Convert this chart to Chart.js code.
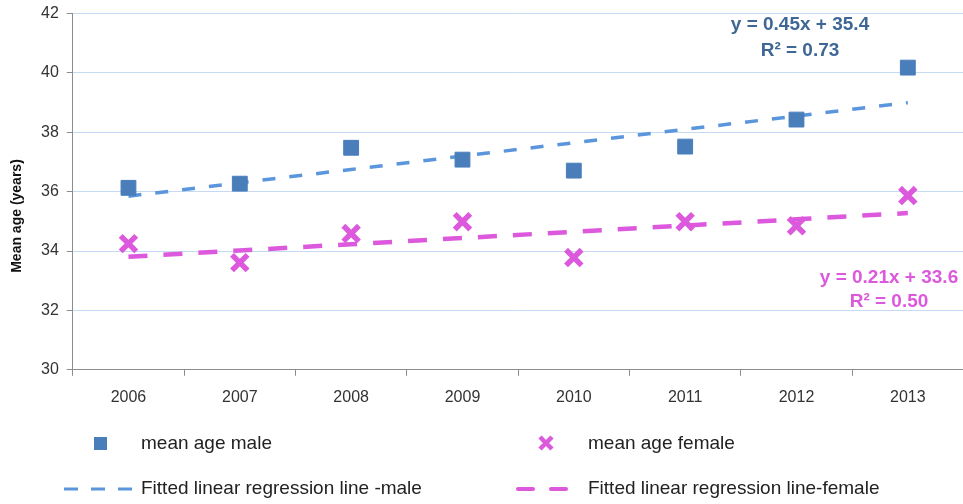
<!DOCTYPE html>
<html>
<head>
<meta charset="utf-8">
<script src="https://cdn.jsdelivr.net/npm/chart.js@4/dist/chart.umd.min.js"></script>
<style>
  html, body { margin: 0; padding: 0; background: #fff; overflow: hidden; }
  #wrap { position: relative; width: 963px; height: 504px; overflow: hidden; }
  #c { position: absolute; left: 0; top: -4px; }
</style>
</head>
<body>
<div id="wrap"><canvas id="c" width="980" height="510"></canvas></div>
<script>
// Mean age by year, with fitted linear regression lines
const years = ['2006', '2007', '2008', '2009', '2010', '2011', '2012', '2013'];
const meanAgeMale = [36.13, 36.27, 37.48, 37.08, 36.71, 37.52, 38.43, 40.18];
const meanAgeFemale = [34.25, 33.61, 34.59, 34.99, 33.78, 34.99, 34.85, 35.87];
// Fitted values: male y = 0.45x + 35.4, female y = 0.21x + 33.6 (x = 1..8)
const fitMale = [35.85, 36.30, 36.75, 37.20, 37.65, 38.10, 38.55, 39.00];
const fitFemale = [33.81, 34.02, 34.23, 34.44, 34.65, 34.86, 35.07, 35.28];
const yTicks = [30, 32, 34, 36, 38, 40, 42];

const yTitle = 'Mean age (years)';
const maleEq = ['y = 0.45x + 35.4', 'R² = 0.73'];
const femaleEq = ['y = 0.21x + 33.6', 'R² = 0.50'];

const BLUE_MARK = '#4a7ebb';
const BLUE_LINE = '#5b96dc';
const PINK = '#dc58dc';
const EQ_BLUE = '#3f6796';
const FONT = "'Liberation Sans', Arial, sans-serif";
const OY = 4; // canvas sits 4px above the page top

const annotations = {
  id: 'annotations',
  afterDraw(chart) {
    const ctx = chart.ctx;
    ctx.save();
    ctx.translate(0, OY);

    // vertical axis title
    ctx.save();
    ctx.translate(17, 216);
    ctx.rotate(-Math.PI / 2);
    ctx.textAlign = 'center';
    ctx.textBaseline = 'middle';
    ctx.font = 'bold 14px ' + FONT;
    ctx.fillStyle = '#111';
    ctx.fillText(yTitle, 0, 0);
    ctx.restore();

    ctx.textAlign = 'center';
    ctx.textBaseline = 'middle';
    ctx.font = 'bold 19px ' + FONT;
    ctx.fillStyle = EQ_BLUE;
    ctx.fillText(maleEq[0], 800, 25);
    ctx.fillText(maleEq[1], 800, 51);
    ctx.fillStyle = PINK;
    ctx.fillText(femaleEq[0], 889, 278);
    ctx.fillText(femaleEq[1], 889, 302);

    // legend (two columns, two rows)
    const items = chart.data.datasets;
    ctx.textAlign = 'left';
    ctx.font = '19px ' + FONT;
    // male marker
    ctx.fillStyle = items[0].backgroundColor;
    ctx.fillRect(94, 437, 13, 13);
    ctx.fillStyle = '#222';
    ctx.fillText(items[0].label, 141, 444);
    // female marker
    ctx.strokeStyle = items[1].borderColor;
    ctx.lineWidth = 4.5;
    ctx.beginPath();
    ctx.moveTo(540, 437); ctx.lineTo(552, 449);
    ctx.moveTo(552, 437); ctx.lineTo(540, 449);
    ctx.stroke();
    ctx.fillStyle = '#222';
    ctx.fillText(items[1].label, 588, 444);
    // male fit line sample
    ctx.strokeStyle = items[2].borderColor;
    ctx.lineWidth = 3;
    ctx.setLineDash([14, 13]);
    ctx.beginPath(); ctx.moveTo(64, 489); ctx.lineTo(133, 489); ctx.stroke();
    ctx.fillText(items[2].label, 141, 489);
    // female fit line sample
    ctx.strokeStyle = items[3].borderColor;
    ctx.lineWidth = 4;
    ctx.setLineDash([15, 18]);
    ctx.lineCap = 'round';
    ctx.beginPath(); ctx.moveTo(518, 489); ctx.lineTo(566, 489); ctx.stroke();
    ctx.fillText(items[3].label, 588, 489);
    ctx.restore();
  }
};

new Chart(document.getElementById('c'), {
  data: {
    labels: years,
    datasets: [
      {
        type: 'line', label: 'mean age male', data: meanAgeMale,
        showLine: false, pointStyle: 'rect', pointRadius: 10.5,
        backgroundColor: BLUE_MARK, borderColor: BLUE_MARK, pointBorderWidth: 1, order: 1
      },
      {
        type: 'line', label: 'mean age female', data: meanAgeFemale,
        showLine: false, pointStyle: 'crossRot', pointRadius: 11,
        backgroundColor: PINK, borderColor: PINK, pointBorderWidth: 5.5, order: 1
      },
      {
        type: 'line', label: 'Fitted linear regression line -male', data: fitMale,
        borderColor: BLUE_LINE, borderWidth: 3.5, borderDash: [13, 14],
        pointRadius: 0, tension: 0, fill: false, order: 2
      },
      {
        type: 'line', label: 'Fitted linear regression line-female', data: fitFemale,
        borderColor: PINK, borderWidth: 4.5, borderDash: [19, 16],
        pointRadius: 0, tension: 0, fill: false, order: 2
      }
    ]
  },
  options: {
    responsive: false,
    animation: false,
    layout: { padding: { top: 0, right: 0, bottom: 87, left: 33 } },
    plugins: { legend: { display: false }, tooltip: { enabled: false } },
    scales: {
      x: {
        type: 'category',
        offset: true,
        grid: { offset: true, drawOnChartArea: false, tickColor: '#8c8c8c', tickLength: 6 },
        border: { color: '#8c8c8c', width: 1 },
        ticks: { color: '#333', font: { family: FONT, size: 16 }, padding: 12 }
      },
      y: {
        min: 30, max: 42,
        afterBuildTicks(axis) { axis.ticks = yTicks.map(v => ({ value: v })); },
        grid: { color: '#c6dbf3', tickColor: '#8c8c8c', tickLength: 6 },
        border: { color: '#8c8c8c', width: 1 },
        ticks: { color: '#333', font: { family: FONT, size: 16 }, padding: 8 }
      }
    }
  },
  plugins: [annotations]
});
</script>
</body>
</html>
